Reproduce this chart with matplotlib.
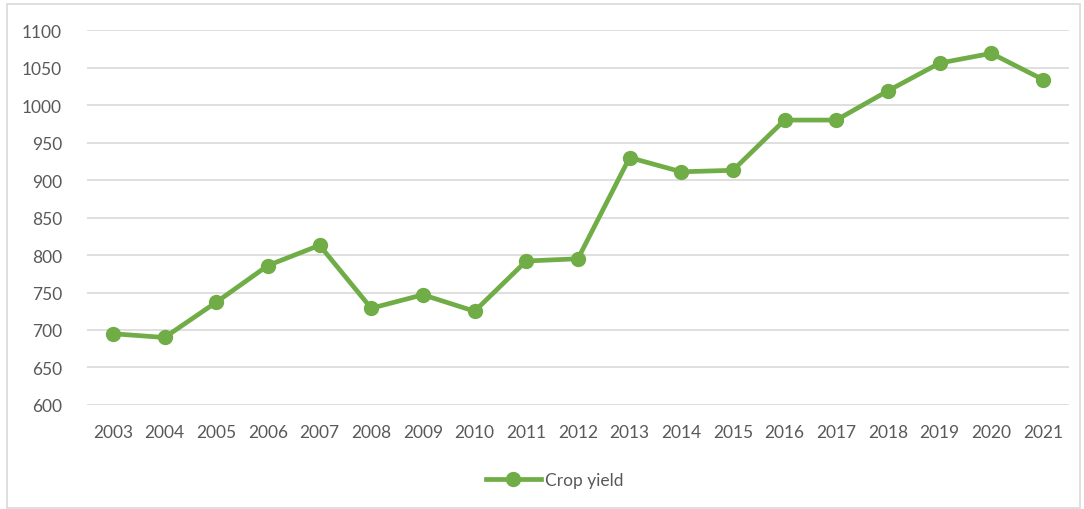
import matplotlib
matplotlib.use("Agg")
import matplotlib.pyplot as plt
from matplotlib.patches import Rectangle

# Crop yield by year
years = ["2003", "2004", "2005", "2006", "2007", "2008", "2009", "2010", "2011", "2012",
         "2013", "2014", "2015", "2016", "2017", "2018", "2019", "2020", "2021"]
crop_yield = [695, 690, 737, 786, 813, 729, 747, 725, 792, 795,
              930, 911, 913, 980, 980, 1019, 1056, 1069, 1034]
y_ticks = [600, 650, 700, 750, 800, 850, 900, 950, 1000, 1050, 1100]

GREEN = "#70AD47"
TEXT = "#595959"
GRID = "#D9D9D9"

plt.rcParams["font.family"] = ["Lato", "DejaVu Sans"]

fig = plt.figure(figsize=(10.84, 5.10), dpi=100)
ax = fig.add_axes([0.0803, 0.204, 0.9057, 0.735])

x = list(range(len(years)))
ax.plot(x, crop_yield, color=GREEN, linewidth=3.4, marker="o", markersize=10,
        label="Crop yield", zorder=3)

ax.set_xlim(-0.5, len(years) - 0.5)
ax.set_ylim(600, 1100)
ax.set_yticks(y_ticks)
ax.set_xticks(x)
ax.set_xticklabels(years)
ax.yaxis.grid(True, color=GRID, linewidth=1.2)
ax.set_axisbelow(True)
for side in ["top", "right", "left", "bottom"]:
    ax.spines[side].set_visible(False)
ax.tick_params(axis="both", length=0, colors=TEXT, labelsize=12.5)
ax.tick_params(axis="y", pad=18)
ax.tick_params(axis="x", pad=14)

leg = ax.legend(loc="center", bbox_to_anchor=(0.476, -0.2), frameon=False,
                fontsize=12.5, handlelength=3.2, handletextpad=0.2)
for t in leg.get_texts():
    t.set_color(TEXT)

# light frame around the chart area
fig.patches.append(Rectangle((7 / 1084, 0.002), 1 - 7 / 1084 - 0.004, 1 - 5 / 510 - 0.002,
                             transform=fig.transFigure, fill=False,
                             edgecolor=GRID, linewidth=1.2))

fig.savefig("out.png", dpi=100)
